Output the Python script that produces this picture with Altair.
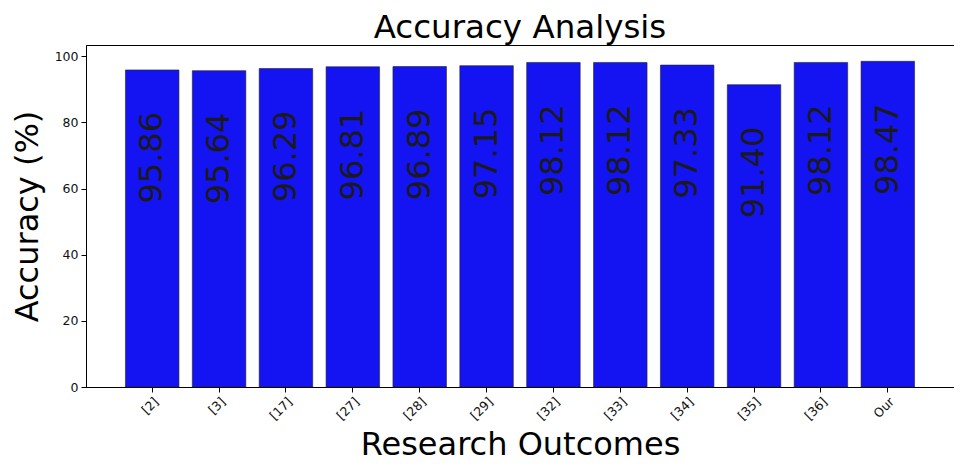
import altair as alt
import pandas as pd

categories = ["[2]", "[3]", "[17]", "[27]", "[28]", "[29]", "[32]", "[33]", "[34]", "[35]", "[36]", "Our"]
accuracy = [95.86, 95.64, 96.29, 96.81, 96.89, 97.15, 98.12, 98.12, 97.33, 91.40, 98.12, 98.47]
y_ticks = [0, 20, 40, 60, 80, 100]

df = pd.DataFrame({"outcome": categories, "acc": accuracy})

FONT = "DejaVu Sans"

x_enc = alt.X(
    "outcome:N",
    sort=categories,
    title="Research Outcomes",
    scale=alt.Scale(paddingInner=0.2, paddingOuter=0.59),
    axis=alt.Axis(labelAngle=-45, labelAlign="right", labelBaseline="top",
                  labelPadding=3, tickSize=5, titlePadding=8),
)
y_enc = alt.Y(
    "acc:Q",
    title="Accuracy (%)",
    scale=alt.Scale(domain=[0, 103.4], nice=False, zero=True),
    axis=alt.Axis(values=y_ticks, tickSize=5, labelPadding=3, titlePadding=10, grid=False),
)

bars = alt.Chart(df).mark_bar(color="#1414f2", stroke="#222222", strokeWidth=0.6).encode(
    x=x_enc, y=y_enc
)

labels = alt.Chart(df).mark_text(
    angle=270, align="right", baseline="middle", dx=-42,
    fontSize=32, font=FONT, color="#1a1a1a"
).encode(
    x=alt.X("outcome:N", sort=categories),
    y=alt.Y("acc:Q"),
    text=alt.Text("acc:Q", format=".2f"),
)

chart = (bars + labels).properties(
    width=868,
    height=342,
    title=alt.TitleParams("Accuracy Analysis", fontSize=32.5, font=FONT, fontWeight="normal",
                          color="black", anchor="middle", offset=1),
    autosize=alt.AutoSizeParams(type="none"),
    padding={"left": 78, "top": 37, "right": 0, "bottom": 78},
).configure_view(
    stroke="black", strokeWidth=1
).configure_axis(
    domainColor="black", tickColor="black", labelColor="#111111",
    labelFont=FONT, labelFontSize=12.5, titleFont=FONT, titleFontSize=32,
    titleFontWeight="normal", titleColor="black", grid=False,
)

chart.save("out.html", embed_options={"renderer": "svg", "actions": False})
